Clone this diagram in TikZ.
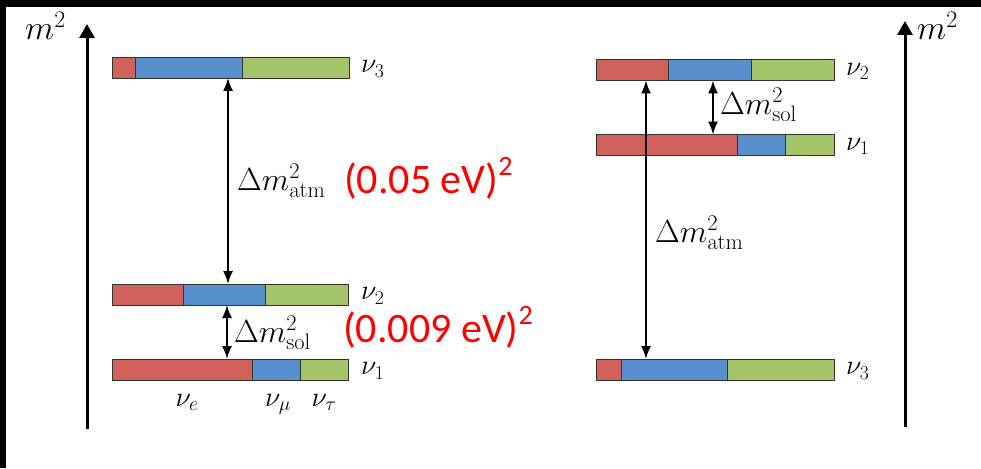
\RequirePackage{fix-cm}
\documentclass[tikz,border=0pt]{standalone}
\usepackage[no-math]{fontspec}
\newfontfamily\redfont{Carlito}
\usetikzlibrary{arrows.meta}
\definecolor{nred}{RGB}{210,97,92}
\definecolor{nblue}{RGB}{88,144,205}
\definecolor{ngreen}{RGB}{163,196,104}
\definecolor{nedge}{RGB}{45,55,45}
\definecolor{hl}{RGB}{255,0,0}
\tikzset{
  seg/.style={draw=nedge, line width=0.9pt, minimum height=21pt, inner sep=0pt, outer sep=0pt, anchor=west},
  lab/.style={inner sep=0pt, anchor=west, font=\fontsize{28}{34}\selectfont},
  dlab/.style={inner sep=0pt, anchor=west, font=\fontsize{32}{38}\selectfont},
  axlab/.style={inner sep=0pt, font=\fontsize{34}{40}\selectfont},
  darr/.style={{Latex[length=13pt,width=10pt]}-{Latex[length=13pt,width=10pt]}, line width=1.7pt},
  axis/.style={-{Triangle[length=14pt,width=15pt]}, line width=3pt},
  redlab/.style={inner sep=0pt, anchor=base west, text=hl, font=\redfont\fontsize{42}{50}\selectfont}
}
\newcommand{\sqtwo}{\raisebox{0.42em}{\fontsize{28}{30}\selectfont 2}}
\begin{document}
\begin{tikzpicture}[x=1pt,y=-1pt]
\useasboundingbox (0,0) rectangle (981,468);
\fill[white] (0,0) rectangle (981,468);
\fill[black] (0,0) rectangle (981,7);
\fill[black] (0,0) rectangle (6,468);
% axes
\coordinate (axL0) at (87,429);
\coordinate (axL1) at (87,24);
\coordinate (axR0) at (905,427);
\coordinate (axR1) at (905,21);
\draw[axis] (axL0) -- (axL1);
\draw[axis] (axR0) -- (axR1);
\node[axlab, anchor=base west] (mL) at (25,40) {$m^2$};
\node[axlab, anchor=base west] (mR) at (917,40) {$m^2$};
% left bars
\node[seg, fill=nred, minimum width=23pt] (L3r) at (112,67.5) {};
\node[seg, fill=nblue, minimum width=107pt] (L3b) at (L3r.east) {};
\node[seg, fill=ngreen, minimum width=107pt] (L3g) at (L3b.east) {};
\node[lab] (L3l) at (361,69) {$\nu_3$};
\node[seg, fill=nred, minimum width=71pt] (L2r) at (112,294.5) {};
\node[seg, fill=nblue, minimum width=82pt] (L2b) at (L2r.east) {};
\node[seg, fill=ngreen, minimum width=83pt] (L2g) at (L2b.east) {};
\node[lab] (L2l) at (361,296) {$\nu_2$};
\node[seg, fill=nred, minimum width=140pt] (L1r) at (112,369.5) {};
\node[seg, fill=nblue, minimum width=48pt] (L1b) at (L1r.east) {};
\node[seg, fill=ngreen, minimum width=48pt] (L1g) at (L1b.east) {};
\node[lab] (L1l) at (361,371) {$\nu_1$};
\node[lab, anchor=base] (fe) at (187,406) {$\nu_e$};
\node[lab, anchor=base] (fm) at (278,406) {$\nu_\mu$};
\node[lab, anchor=base] (ft) at (324,406) {$\nu_\tau$};
% right bars
\node[seg, fill=nred, minimum width=72pt] (R2r) at (596,70) {};
\node[seg, fill=nblue, minimum width=83pt] (R2b) at (R2r.east) {};
\node[seg, fill=ngreen, minimum width=83pt] (R2g) at (R2b.east) {};
\node[lab] (R2l) at (846,71.5) {$\nu_2$};
\node[seg, fill=nred, minimum width=141pt] (R1r) at (596,145) {};
\node[seg, fill=nblue, minimum width=48pt] (R1b) at (R1r.east) {};
\node[seg, fill=ngreen, minimum width=49pt] (R1g) at (R1b.east) {};
\node[lab] (R1l) at (846,146.5) {$\nu_1$};
\node[seg, fill=nred, minimum width=25pt] (R3r) at (596,369.5) {};
\node[seg, fill=nblue, minimum width=106pt] (R3b) at (R3r.east) {};
\node[seg, fill=ngreen, minimum width=107pt] (R3g) at (R3b.east) {};
\node[lab] (R3l) at (846,371) {$\nu_3$};
% splitting arrows
\coordinate (xaL) at (228,0);
\coordinate (xsL) at (227,0);
\coordinate (xsR) at (713,0);
\coordinate (xaR) at (646,0);
\draw[darr] (xaL |- L3b.south) -- (xaL |- L2b.north);
\draw[darr] (xsL |- L2b.south) -- (xsL |- L1r.north);
\draw[darr] (xsR |- R2b.south) -- (xsR |- R1r.north);
\draw[darr] (xaR |- R2r.south) -- (xaR |- R3b.north);
\node[dlab] (dLa) at (237,181) {$\Delta m^2_{\mathrm{atm}}$};
\node[dlab] (dLs) at (234,333) {$\Delta m^2_{\mathrm{sol}}$};
\node[dlab] (dRs) at (720,105) {$\Delta m^2_{\mathrm{sol}}$};
\node[dlab] (dRa) at (655,233) {$\Delta m^2_{\mathrm{atm}}$};
% red values
\node[redlab] (vA) at (344,193) {(0.05 eV)\sqtwo};
\node[redlab] (vS) at (343,342) {(0.009 eV)\sqtwo};
\end{tikzpicture}
\end{document}
